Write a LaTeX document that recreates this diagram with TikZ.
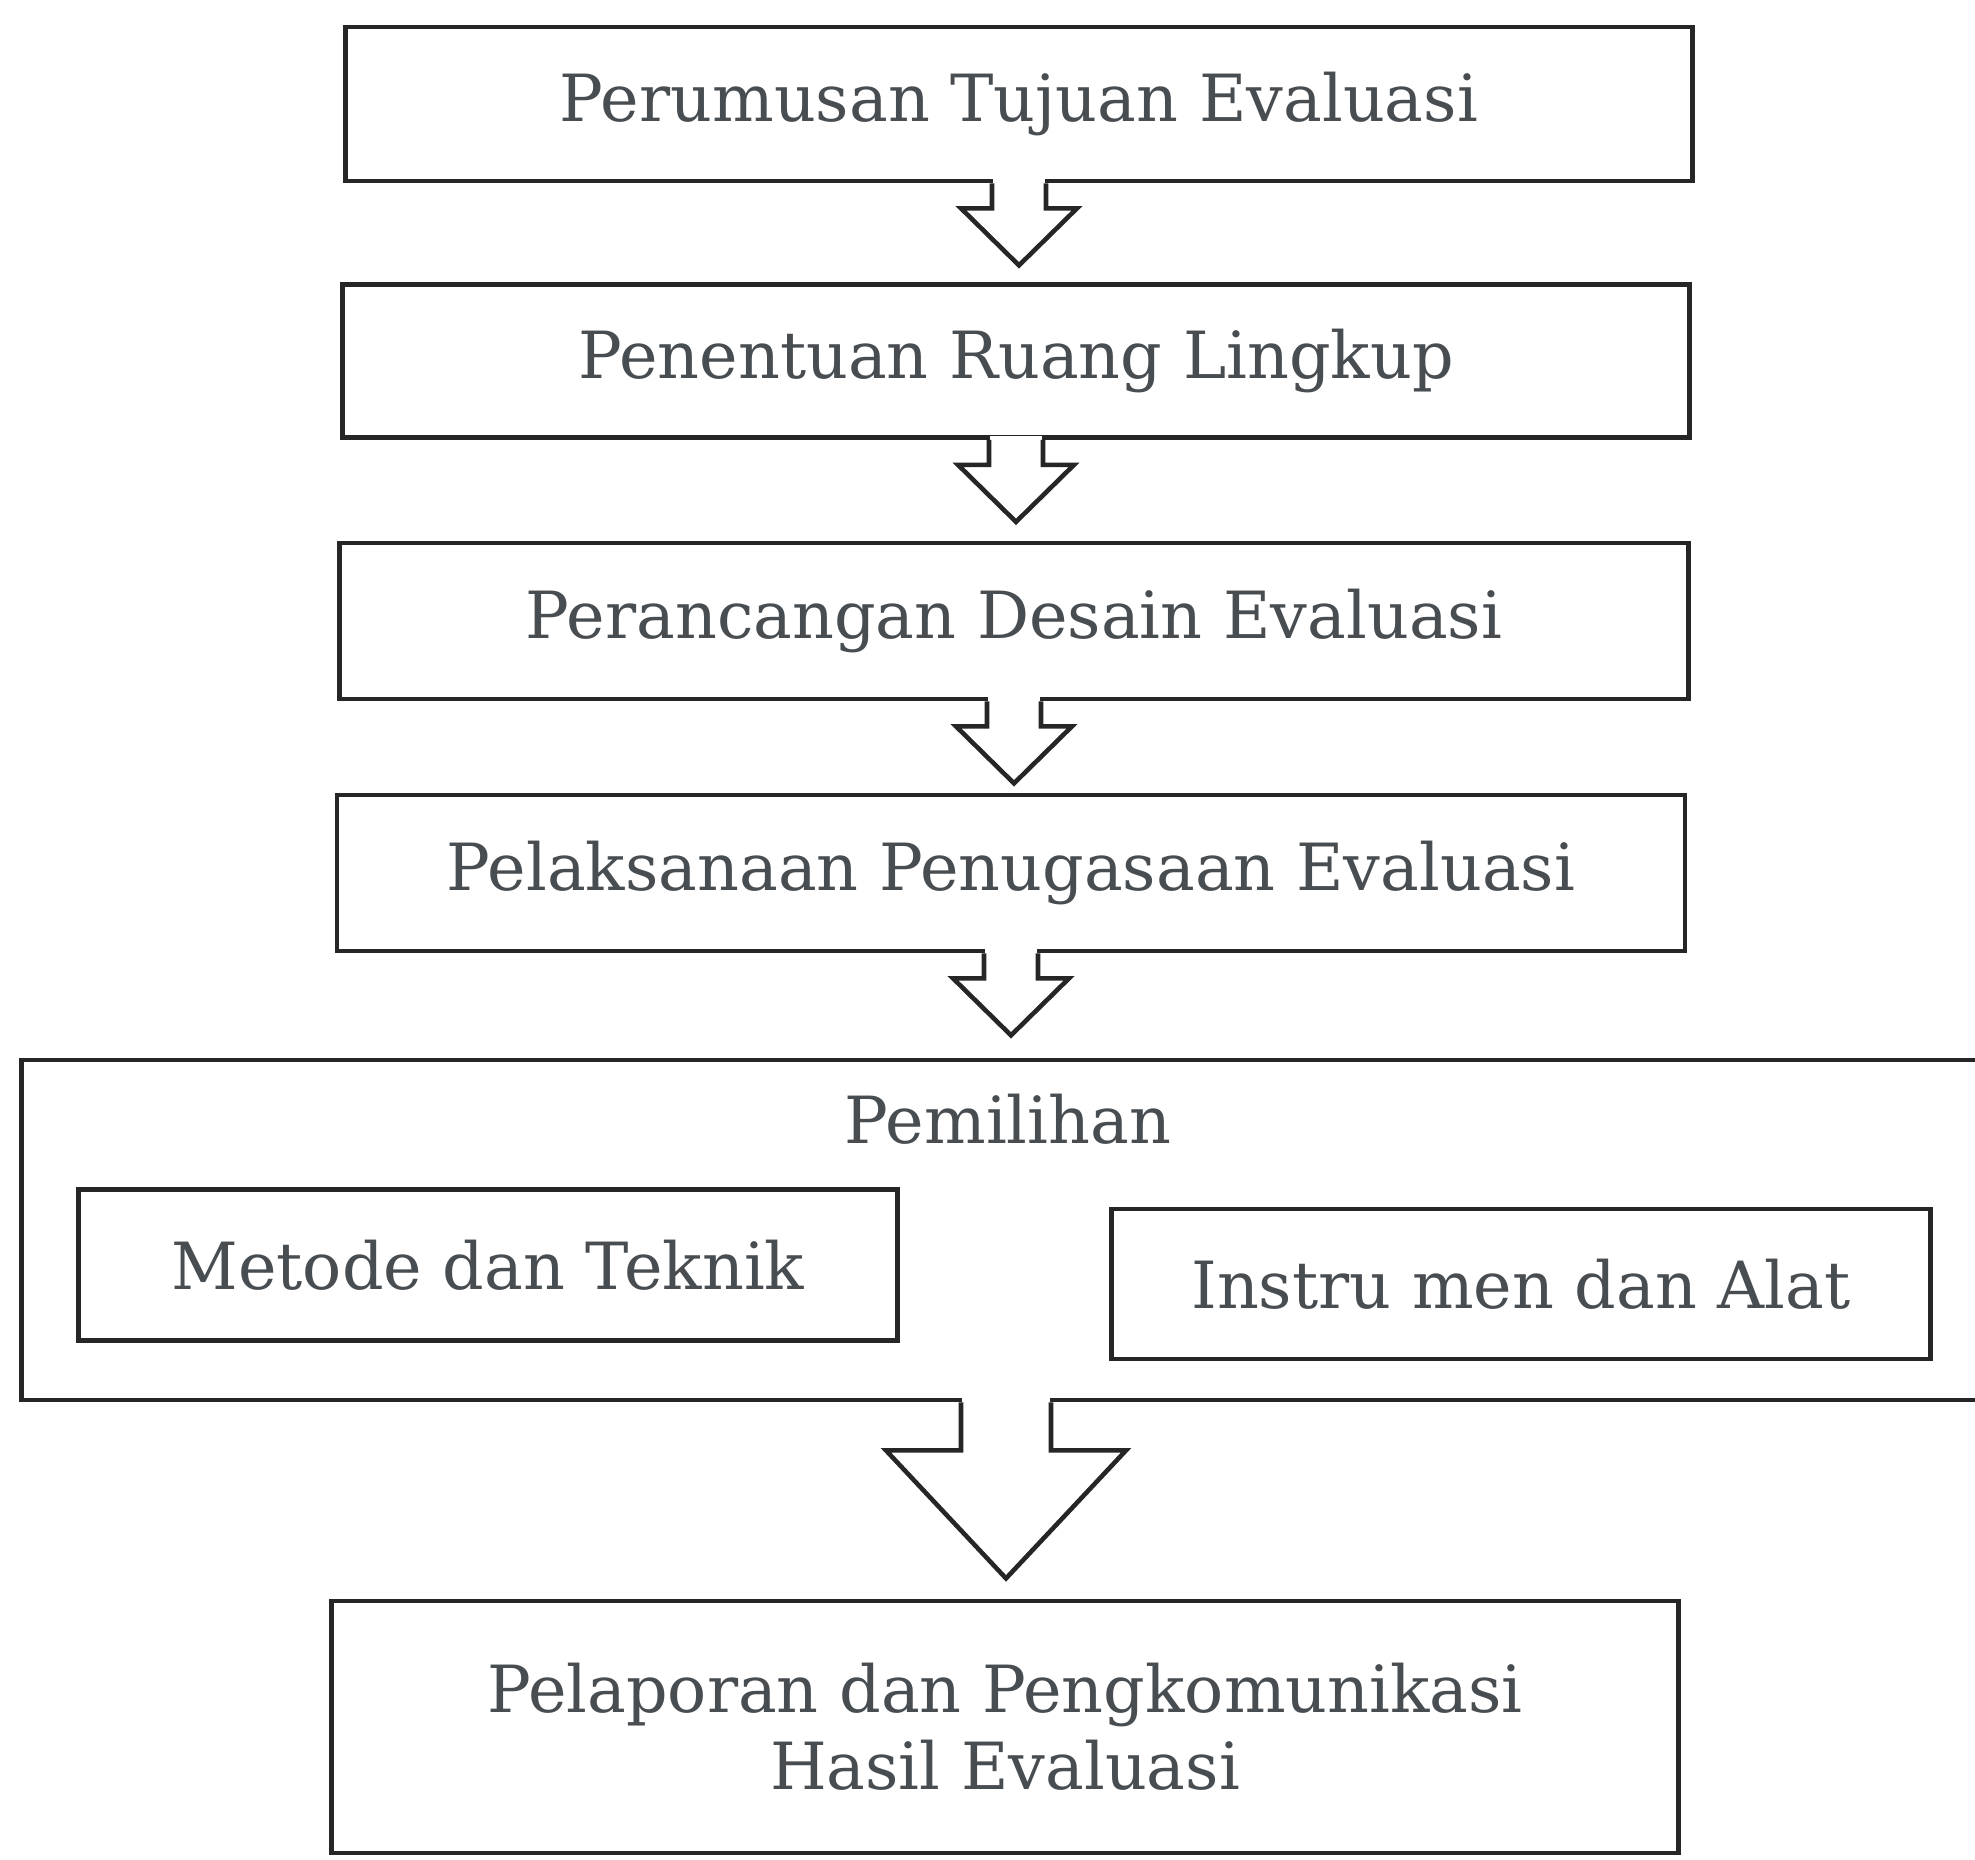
\documentclass[tikz,border=0pt]{standalone}
\usepackage{fontspec}
\setmainfont{DejaVu Serif}
\usepackage{tikz}
\usetikzlibrary{calc}
\definecolor{inkGray}{RGB}{72,77,82}

\begin{document}
\begin{tikzpicture}[x=0.01cm, y=-0.01cm,
	boxStyle/.style={rectangle, draw=black!85, line width=1.3pt, inner sep=0pt, text=inkGray, align=center, font=\fontsize{18.5}{22}\selectfont},
	arrowStyle/.style={draw=black!85, line width=1.3pt, line join=miter}]
			\useasboundingbox (0,0) rectangle (1975,1859);
			\clip (0,0) rectangle (1975,1859);

			% Steps
			\node[boxStyle, minimum width=13.46cm, minimum height=1.54cm] (tujuan) at (1019,104) {Perumusan Tujuan Evaluasi};
			\node[boxStyle, minimum width=13.46cm, minimum height=1.53cm] (ruang) at (1016,361) {Penentuan Ruang Lingkup};
			\node[boxStyle, minimum width=13.48cm, minimum height=1.56cm] (desain) at (1014,621) {Perancangan Desain Evaluasi};
			\node[boxStyle, minimum width=13.47cm, minimum height=1.56cm] (pelaksanaan) at (1011,873) {Pelaksanaan Penugasaan Evaluasi};

			% Pemilihan
			\node[boxStyle, minimum width=19.68cm, minimum height=3.40cm] (pemilihan) at (1006,1230) {};
			\node[text=inkGray, font=\fontsize{18.5}{22}\selectfont] (pemilihan_label) at (1008,1119) {Pemilihan};
			\node[boxStyle, minimum width=8.18cm, minimum height=1.51cm] (metode) at (488,1265) {Metode dan Teknik};
			\node[boxStyle, minimum width=8.18cm, minimum height=1.50cm] (instrumen) at (1521,1284) {Instru men dan Alat};

			% Pelaporan
			\node[boxStyle, minimum width=13.46cm, minimum height=2.52cm] (pelaporan) at (1005,1727) {Pelaporan dan Pengkomunikasi\\Hasil Evaluasi};

			% Hollow arrows
			\foreach \from in {tujuan,ruang,desain,pelaksanaan} {
				\fill[white] ($(\from.south)+(-26,-4)$) rectangle ($(\from.south)+(26,4)$);
				\draw[arrowStyle] ($(\from.south)+(-27,0)$) -- ++(0,25) -- ++(-31,0) -- ++(58,57) -- ++(58,-57) -- ++(-31,0) -- ++(0,-25);
			}
			\fill[white] ($(pemilihan.south)+(-44,-4)$) rectangle ($(pemilihan.south)+(44,4)$);
			\draw[arrowStyle] ($(pemilihan.south)+(-45,0)$) -- ++(0,48) -- ++(-75,0) -- ++(120,128) -- ++(120,-128) -- ++(-75,0) -- ++(0,-48);

		\end{tikzpicture}
\end{document}
